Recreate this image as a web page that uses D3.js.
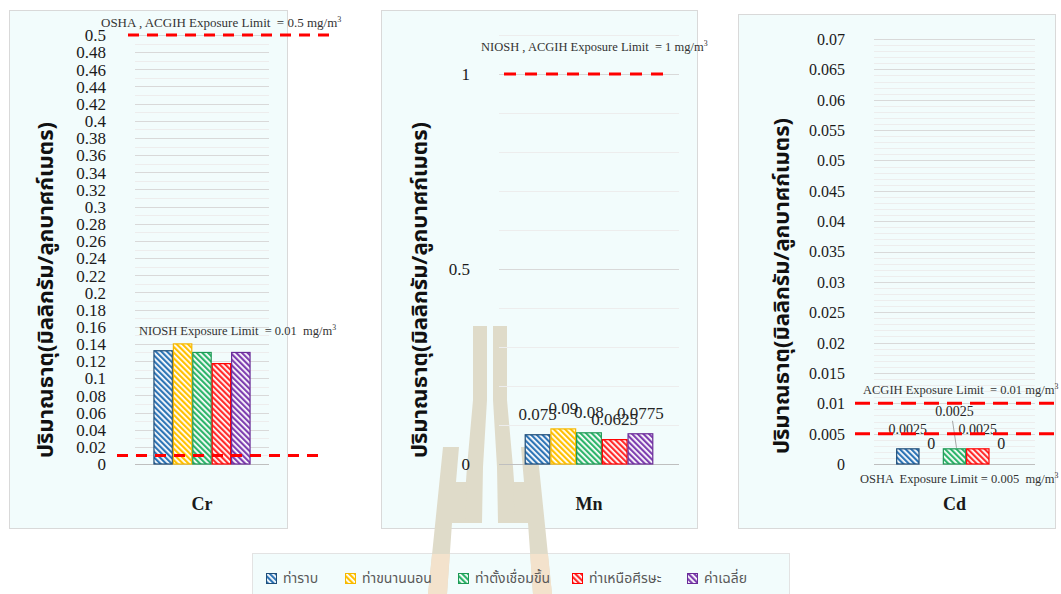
<!DOCTYPE html>
<html>
<head>
<meta charset="utf-8">
<script src="https://cdn.jsdelivr.net/npm/d3@7"></script>
<style>
  html, body { margin: 0; padding: 0; background: #ffffff; }
  svg { display: block; }
  .serif { font-family: "Liberation Serif", "Times New Roman", serif; }
  .thai { font-family: "Noto Sans Thai", "Tahoma", "Noto Sans", "DejaVu Sans", sans-serif; }
</style>
</head>
<body>
<svg id="chart" width="1061" height="594"></svg>
<script>
// ---- data -------------------------------------------------------------
const series = ["ท่าราบ", "ท่าขนานนอน", "ท่าตั้งเชื่อมขึ้น", "ท่าเหนือศีรษะ", "ค่าเฉลี่ย"];
const colors = ["#2E75B6", "#FFC000", "#2DB46B", "#FF2B2B", "#7E3FB0"];
const outlines = ["#1F4E79", "#F5B800", "#1E9A55", "#FF0000", "#6A2C98"];

const crValues = [0.132, 0.14, 0.13, 0.117, 0.13];
const mnValues = [0.075, 0.09, 0.08, 0.0625, 0.0775];
const cdValues = [0.0025, 0, 0.0025, 0.0025, 0];

const crTicks = [0, 0.02, 0.04, 0.06, 0.08, 0.1, 0.12, 0.14, 0.16, 0.18, 0.2, 0.22, 0.24,
                 0.26, 0.28, 0.3, 0.32, 0.34, 0.36, 0.38, 0.4, 0.42, 0.44, 0.46, 0.48, 0.5];
const mnTicks = [0, 0.5, 1];
const cdTicks = [0, 0.005, 0.01, 0.015, 0.02, 0.025, 0.03, 0.035, 0.04, 0.045, 0.05,
                 0.055, 0.06, 0.065, 0.07];

const crLimits = [
  { value: 0.5, text: "OSHA , ACGIH Exposure Limit  = 0.5 mg/m" },
  { value: 0.01, text: "NIOSH Exposure Limit  = 0.01  mg/m" }
];
const mnLimits = [
  { value: 1, text: "NIOSH , ACGIH Exposure Limit  = 1 mg/m" }
];
const cdLimits = [
  { value: 0.01, text: "ACGIH Exposure Limit  = 0.01 mg/m" },
  { value: 0.005, text: "OSHA  Exposure Limit = 0.005  mg/m" }
];

const yTitle = "ปริมาณธาตุ(มิลลิกรัม/ลูกบาศก์เมตร)";

// ---- layout -----------------------------------------------------------
const panels = [
  {
    name: "Cr", values: crValues, ticks: crTicks, limits: crLimits,
    box: [9, 10, 278, 518], plot: { x0: 135, x1: 269, y0: 464, y1: 35 },
    domain: [0, 0.5], minor: 0.01, major: 0.02, gridMax: 0.5, pad: 0.19,
    tickX: 106, tickSize: 17, titleX: 47, titleY: 290,
    limitStyle: [
      { x0: 128, x1: 331, tx: 101, ty: 27, size: 13 },
      { x0: 117, x1: 321, tx: 139, ty: 335, size: 12.5 }
    ],
    dash: "11,8", labels: false
  },
  {
    name: "Mn", values: mnValues, ticks: mnTicks, limits: mnLimits,
    box: [381, 10, 316, 518], plot: { x0: 499, x1: 679, y0: 464, y1: 35 },
    domain: [0, 1.1], minor: 0.1, major: 0.5, gridMax: 1.1, pad: 0.2,
    tickX: 470, tickSize: 17, titleX: 421, titleY: 290,
    limitStyle: [
      { x0: 504, x1: 665, tx: 481, ty: 51, size: 12.5 }
    ],
    dash: "12,9", labels: true, labelSize: 17
  },
  {
    name: "Cd", values: cdValues, ticks: cdTicks, limits: cdLimits,
    box: [738, 14, 317, 514], plot: { x0: 874, x1: 1035, y0: 464, y1: 39 },
    domain: [0, 0.07], minor: 0.001, major: 0.005, gridMax: 0.07, pad: 0.19,
    tickX: 845, tickSize: 16, titleX: 783, titleY: 286,
    limitStyle: [
      { x0: 855, x1: 1061, tx: 863, ty: 394, size: 12.5 },
      { x0: 855, x1: 1061, tx: 860, ty: 483, size: 12.5 }
    ],
    dash: "15,8", labels: true, labelSize: 14
  }
];

const svg = d3.select("#chart");
svg.append("rect").attr("width", 1061).attr("height", 594).attr("fill", "#ffffff");

// diagonal hatch fills for the bars
const defs = svg.append("defs");
colors.forEach((c, i) => {
  const p = defs.append("pattern")
    .attr("id", "hatch" + i)
    .attr("patternUnits", "userSpaceOnUse")
    .attr("width", 4).attr("height", 4)
    .attr("patternTransform", "rotate(-45)");
  p.append("rect").attr("width", 4).attr("height", 4).attr("fill", "#ffffff");
  p.append("rect").attr("width", 2.2).attr("height", 4).attr("fill", c);
});

// panel backgrounds
panels.forEach(p => {
  svg.append("rect")
    .attr("x", p.box[0] + 0.5).attr("y", p.box[1] + 0.5)
    .attr("width", p.box[2]).attr("height", p.box[3])
    .attr("fill", "#F2FCFC").attr("stroke", "#D9D9D9").attr("stroke-width", 1);
});

// legend box
svg.append("rect")
  .attr("x", 252.5).attr("y", 553.5).attr("width", 537).attr("height", 42)
  .attr("fill", "#F2FCFC").attr("stroke", "#E3E3E3");

// faint emblem watermark
const wm = svg.append("g").attr("fill", "#DFDBC9");
const half = [
  [[473, 326], [487, 326], [487, 400], [483, 467], [482, 523], [463, 523], [467, 467], [473, 400]],
  [[443, 447], [459, 447], [456, 482], [467, 482], [465, 523], [452, 523], [447, 594], [428, 594]]
];
const cx = 490;
half.forEach(poly => {
  wm.append("path").attr("d", d3.line()(poly) + "Z");
  wm.append("path").attr("d", d3.line()(poly.map(([x, y]) => [2 * cx - x, y])) + "Z");
});
// warmer tint where the emblem crosses the legend strip
wm.append("g").attr("fill", "#F3E2CC").selectAll("path")
  .data([half[1], half[1].map(([x, y]) => [2 * cx - x, y])])
  .join("path")
  .attr("clip-path", "url(#legendClip)")
  .attr("d", d => d3.line()(d) + "Z");
defs.append("clipPath").attr("id", "legendClip")
  .append("rect").attr("x", 253).attr("y", 554).attr("width", 536).attr("height", 40);

panels.forEach(p => {
  const g = svg.append("g");
  const y = d3.scaleLinear().domain(p.domain).range([p.plot.y0, p.plot.y1]);
  const x = d3.scaleBand().domain([p.name]).range([p.plot.x0, p.plot.x1]).paddingInner(0).paddingOuter(p.pad);
  const xs = d3.scaleBand().domain(series).range([0, x.bandwidth()]).padding(0);

  // gridlines: fine minor lines and stronger major lines
  const nMinor = Math.round(p.gridMax / p.minor);
  const minorVals = d3.range(0, nMinor + 1).map(i => +(i * p.minor).toFixed(6));
  const ratio = Math.round(p.major / p.minor);
  g.append("g").selectAll("line").data(minorVals).join("line")
    .attr("x1", p.plot.x0).attr("x2", p.plot.x1)
    .attr("y1", d => Math.round(y(d)) + 0.5).attr("y2", d => Math.round(y(d)) + 0.5)
    .attr("stroke", (d, i) => i === 0 ? "#BFBFBF" : (i % ratio === 0 ? "#D9D9D9" : "#EDEDED"))
    .attr("stroke-width", 1);

  // y tick labels
  const axis = d3.axisLeft(y).tickValues(p.ticks).tickSize(0).tickFormat(d3.format("~g"));
  const ag = g.append("g").attr("transform", `translate(${p.tickX},0)`).call(axis);
  ag.select(".domain").remove();
  ag.selectAll("text")
    .attr("x", 0).attr("dy", "0.34em")
    .attr("font-size", p.tickSize).attr("fill", "#1a1a1a")
    .style("font-family", '"Liberation Serif", "Times New Roman", serif');

  // axis title
  g.append("text")
    .attr("class", "thai")
    .attr("transform", `translate(${p.titleX},${p.titleY}) rotate(-90)`)
    .attr("text-anchor", "middle").attr("dominant-baseline", "middle")
    .attr("font-size", 22).attr("font-weight", "bold").attr("fill", "#111")
    .text(yTitle);

  // category label
  g.append("text")
    .attr("class", "serif")
    .attr("x", x(p.name) + x.bandwidth() / 2).attr("y", 510)
    .attr("text-anchor", "middle").attr("font-size", 18).attr("font-weight", "bold")
    .attr("fill", "#1a1a1a").text(p.name);

  // bars
  const bars = g.append("g").attr("transform", `translate(${x(p.name)},0)`);
  bars.selectAll("rect").data(p.values).join("rect")
    .attr("x", (d, i) => xs(series[i]) + 0.5)
    .attr("width", xs.bandwidth() - 1)
    .attr("y", d => y(d))
    .attr("height", d => y(0) - y(d))
    .attr("fill", (d, i) => `url(#hatch${i})`)
    .attr("stroke", (d, i) => outlines[i])
    .attr("stroke-width", 1.2)
    .attr("display", d => d > 0 ? null : "none");

  // value labels
  if (p.labels) {
    const lab = g.append("g").attr("transform", `translate(${x(p.name)},0)`);
    p.values.forEach((v, i) => {
      const lx = xs(series[i]) + xs.bandwidth() / 2;
      let ly = y(v) - 15;
      let size = p.labelSize;
      if (p.name === "Cd") {
        size = v === 0 ? 16 : 14;
        if (i === 2) {
          // lifted label with a leader line down to its bar
          ly = y(v) - 33;
          lab.append("line")
            .attr("x1", lx - 2).attr("y1", y(v) - 28)
            .attr("x2", lx + 2).attr("y2", y(v) - 1)
            .attr("stroke", "#A6A6A6").attr("stroke-width", 1);
        }
      }
      lab.append("text")
        .attr("class", "serif")
        .attr("x", lx).attr("y", ly)
        .attr("text-anchor", "middle").attr("font-size", size)
        .attr("fill", "#262626")
        .text(d3.format("~g")(v));
    });
  }
});

// exposure limit lines and their captions, drawn on top
panels.forEach(p => {
  const y = d3.scaleLinear().domain(p.domain).range([p.plot.y0, p.plot.y1]);
  p.limits.forEach((lim, k) => {
    const s = p.limitStyle[k];
    svg.append("line")
      .attr("x1", s.x0).attr("x2", s.x1)
      .attr("y1", y(lim.value)).attr("y2", y(lim.value))
      .attr("stroke", "#FF0000").attr("stroke-width", 3)
      .attr("stroke-dasharray", p.dash);
    const t = svg.append("text")
      .attr("class", "serif")
      .attr("x", s.tx).attr("y", s.ty)
      .attr("font-size", s.size).attr("fill", "#333333")
      .style("white-space", "pre");
    t.append("tspan").text(lim.text);
    t.append("tspan").attr("dy", -5).attr("font-size", s.size * 0.62).text("3");
  });
});

// legend
const legend = svg.append("g");
const legendX = [266, 345, 458, 572, 687];
series.forEach((name, i) => {
  legend.append("rect")
    .attr("x", legendX[i] + 0.5).attr("y", 573.5).attr("width", 10).attr("height", 10)
    .attr("fill", `url(#hatch${i})`).attr("stroke", outlines[i]).attr("stroke-width", 1);
  legend.append("text")
    .attr("class", "thai")
    .attr("x", legendX[i] + 17).attr("y", 583)
    .attr("font-size", 14).attr("fill", "#595959")
    .text(name);
});
</script>
</body>
</html>
